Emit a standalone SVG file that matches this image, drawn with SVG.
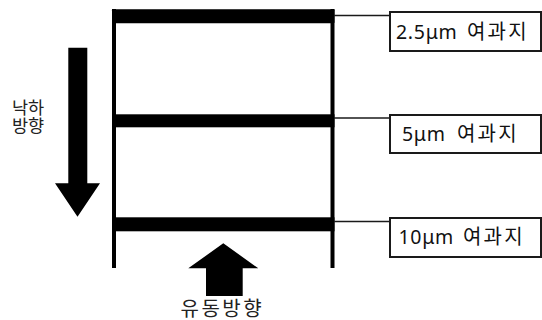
<svg xmlns="http://www.w3.org/2000/svg" width="542" height="320" viewBox="0 0 542 320">
<style>
.band{fill:#000}
.post{stroke:#000;stroke-width:4;fill:none}
.lead{stroke:#1a1a1a;stroke-width:1.5;fill:none}
.box{fill:#fff;stroke:#1a1a1a;stroke-width:2}
.lbl{font-family:"Noto Sans","Noto Sans CJK KR",sans-serif;font-size:19.5px;fill:#111;letter-spacing:0.7px}
.ko{font-family:"Noto Sans CJK KR","Noto Sans",sans-serif;font-size:20px;letter-spacing:2.2px}
.dir{font-family:"Noto Sans CJK KR","Noto Sans",sans-serif;fill:#222}
.arrow{fill:#000}
</style>
<rect width="542" height="320" fill="#fff"/>
<g id="column">
  <line class="post" x1="114" y1="9" x2="114" y2="268"/>
  <line class="post" x1="332.5" y1="9" x2="332.5" y2="268"/>
  <rect class="band" x="112" y="9.3" width="222.5" height="14" rx="1"/>
  <rect class="band" x="112" y="114.3" width="222.5" height="13"/>
  <rect class="band" x="112" y="217.3" width="222.5" height="14"/>
</g>
<g id="connectors">
  <line class="lead" x1="334" y1="15.5" x2="390" y2="15.5"/>
  <line class="lead" x1="334" y1="118" x2="390" y2="118"/>
  <line class="lead" x1="334" y1="221.5" x2="390" y2="221.5"/>
</g>
<g id="filter-2-5">
  <rect class="box" x="390" y="12" width="151" height="39"/>
  <text class="lbl" y="39"><tspan x="396">2.5μm </tspan><tspan class="ko" x="467">여과지</tspan></text>
</g>
<g id="filter-5">
  <rect class="box" x="390" y="115" width="151" height="38"/>
  <text class="lbl" y="141"><tspan x="402">5μm </tspan><tspan class="ko" x="457">여과지</tspan></text>
</g>
<g id="filter-10">
  <rect class="box" x="390" y="218" width="151" height="39"/>
  <text class="lbl" y="244"><tspan x="398.5">10μm </tspan><tspan class="ko" x="463">여과지</tspan></text>
</g>
<g id="fall-direction">
  <polygon class="arrow" points="68.3,47.7 87.3,47.7 87.3,183.3 100,183.3 77.5,216.7 55,183.3 68.3,183.3"/>
  <text class="dir" font-size="17.5"><tspan x="12" y="114">낙하</tspan><tspan x="12" y="132">방향</tspan></text>
</g>
<g id="flow-direction">
  <polygon class="arrow" points="223.3,243.3 258.3,268.3 242.7,268.3 242.7,296 206,296 206,268.3 188.3,268.3"/>
  <text class="dir" font-size="20" letter-spacing="2.5" x="180.5" y="315.5">유동방향</text>
</g>
</svg>
